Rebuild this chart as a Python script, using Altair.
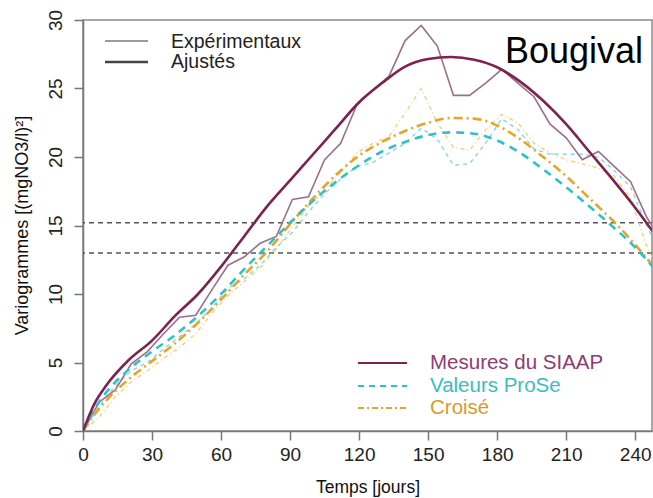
import altair as alt
import pandas as pd

# Experimental variograms, weekly lags (days)
lag_days = [0, 7, 14, 21, 28, 35, 42, 49, 56, 63, 70, 77, 84, 91, 98, 105, 112,
            119, 126, 133, 140, 147, 154, 161, 168, 175, 182, 189, 196, 203, 210,
            217, 224, 231, 238, 245, 252]
siaap_exp = [0, 2.1, 3.0, 4.9, 5.8, 7.1, 8.3, 8.45, 10.3, 12.1, 12.7, 13.7, 14.2,
             16.9, 17.1, 19.8, 21.0, 23.8, 24.9, 25.9, 28.5, 29.6, 28.1, 24.5, 24.5,
             25.4, 26.4, 25.4, 24.4, 22.4, 21.4, 19.8, 20.4, 19.3, 18.2, 15.6, 13.8]
prose_exp = [0, 1.8, 3.3, 4.4, 5.0, 6.0, 6.9, 7.8, 9.0, 10.4, 11.1, 12.1, 13.4,
             14.5, 16.0, 17.3, 18.4, 19.3, 19.6, 20.3, 21.0, 22.1, 21.3, 19.4, 19.5,
             21.0, 22.8, 22.0, 20.6, 20.2, 20.2, 20.2, 20.0, 19.0, 17.8, 15.0, 12.5]
croise_exp = [0, 1.0, 2.5, 3.6, 4.4, 5.3, 6.1, 7.1, 8.6, 9.9, 10.9, 11.9, 13.3,
              14.9, 16.4, 17.6, 18.9, 20.3, 21.0, 21.5, 23.2, 25.0, 22.5, 20.7, 20.5,
              22.0, 23.1, 22.5, 21.0, 20.3, 19.8, 19.5, 19.2, 18.6, 17.0, 13.5, 11.0]

# Fitted variogram models
fit_days = [0, 5, 10, 20, 30, 40, 50, 60, 70, 80, 90, 100, 110, 120, 130, 140,
            150, 160, 170, 180, 190, 200, 210, 220, 230, 240, 247.5]
siaap_fit = [0, 2.0, 3.3, 5.2, 6.6, 8.4, 10.0, 12.0, 14.2, 16.4, 18.3, 20.2, 22.1,
             24.0, 25.4, 26.6, 27.15, 27.3, 27.1, 26.55, 25.5, 24.1, 22.4, 20.4,
             18.4, 16.3, 14.6]
prose_fit = [0, 1.6, 2.8, 4.5, 5.8, 7.0, 8.4, 10.0, 11.8, 13.5, 15.2, 16.8, 18.2,
             19.4, 20.4, 21.1, 21.6, 21.8, 21.7, 21.2, 20.3, 19.1, 17.8, 16.4, 14.95,
             13.4, 12.0]
croise_fit = [0, 1.2, 2.2, 3.8, 5.1, 6.4, 7.9, 9.6, 11.4, 13.1, 15.1, 17.0, 18.7,
              20.1, 21.1, 21.9, 22.5, 22.85, 22.8, 22.3, 21.3, 20.0, 18.6, 17.0, 15.4,
              13.6, 12.1]

# Reference levels (dashed horizontals)
sill_levels = [15.2, 13.0]

x_ticks = [0, 30, 60, 90, 120, 150, 180, 210, 240]
y_ticks = [0, 5, 10, 15, 20, 25, 30]

FONT = "Liberation Sans"

SIAAP_FIT = "#7d2252"
SIAAP_EXP = "#9c7088"
PROSE_FIT = "#30c0c8"
PROSE_EXP = "#8ed6da"
CROISE_FIT = "#e6a52a"
CROISE_EXP = "#f0d27a"


def x_enc():
    return alt.X(
        "jours:Q",
        scale=alt.Scale(domain=[0, 247.3], nice=False, zero=False),
        axis=alt.Axis(
            values=x_ticks, title="Temps [jours]", grid=False,
            labelFontSize=19, labelPadding=5, tickSize=9, labelFlush=False,
            labelOverlap=False, titleFontSize=17.5, titleFontWeight="normal",
            titleX=284.5, titleY=56, titleBaseline="middle", titleAlign="center",
        ),
    )


def y_enc():
    return alt.Y(
        "gamma:Q",
        scale=alt.Scale(domain=[0, 30], nice=False, zero=False),
        axis=alt.Axis(
            values=y_ticks, title="Variogrammes [(mgNO3/l)²]", grid=False,
            labelFontSize=19, labelAngle=270, labelAlign="center",
            labelBaseline="bottom", labelPadding=9, tickSize=9, labelFlush=False,
            labelOverlap=False, titleFontSize=18, titleFontWeight="normal",
            titleAngle=270, titleX=-61, titleY=205, titleAlign="center",
            titleBaseline="middle",
        ),
    )


def series(days, values, color, width, dash=None, interp="linear"):
    df = pd.DataFrame({"jours": days, "gamma": values})
    kw = dict(color=color, strokeWidth=width, clip=True, interpolate=interp)
    if dash is not None:
        kw["strokeDash"] = dash
    return alt.Chart(df).mark_line(**kw).encode(x=x_enc(), y=y_enc())


sills = alt.Chart(pd.DataFrame({"gamma": sill_levels})).mark_rule(
    color="#555555", strokeWidth=1.5, strokeDash=[5, 4]
).encode(y=y_enc())

layers = [
    sills,
    series(lag_days, croise_exp, CROISE_EXP, 1.4, [4, 3, 1, 3]),
    series(lag_days, prose_exp, PROSE_EXP, 1.4, [4, 4]),
    series(lag_days, siaap_exp, SIAAP_EXP, 1.6),
    series(fit_days, croise_fit, CROISE_FIT, 2.6, [9, 4, 2, 4], "monotone"),
    series(fit_days, prose_fit, PROSE_FIT, 2.6, [8, 6], "monotone"),
    series(fit_days, siaap_fit, SIAAP_FIT, 2.6, None, "monotone"),
]

one = pd.DataFrame({"k": [0]})


def leg_rule(x1, x2, ypx, color, width, dash=None):
    kw = dict(color=color, strokeWidth=width)
    if dash is not None:
        kw["strokeDash"] = dash
    return alt.Chart(one).mark_rule(**kw).encode(
        x=alt.value(x1), x2=alt.value(x2), y=alt.value(ypx)
    )


def leg_text(xpx, ypx, label, color, size, baseline="middle"):
    return alt.Chart(one).mark_text(
        align="left", baseline=baseline, font=FONT, fontSize=size, color=color
    ).encode(x=alt.value(xpx), y=alt.value(ypx), text=alt.value(label))


# Line-type legend (top left)
layers += [
    leg_rule(22, 65, 21, "#7a7a7a", 1.5),
    leg_rule(22, 65, 42, "#444444", 2.6),
    leg_text(88, 22, "Expérimentaux", "#222222", 19.5),
    leg_text(88, 42, "Ajustés", "#222222", 19.5),
]

# Station name
layers.append(leg_text(422, 42.7, "Bougival", "#000000", 36, "alphabetic"))

# Series legend (bottom right)
layers += [
    leg_rule(275, 324, 343, SIAAP_FIT, 2.2),
    leg_rule(275, 324, 366, PROSE_FIT, 2.2, [6, 5]),
    leg_rule(275, 324, 388, CROISE_FIT, 2.0, [6, 3, 2, 3]),
    leg_text(347, 343, "Mesures du SIAAP", "#8e3b72", 20.5),
    leg_text(347, 366, "Valeurs ProSe", "#3bbcc4", 20.5),
    leg_text(347, 388, "Croisé", "#d99a2b", 20.5),
]

chart = alt.layer(*layers).properties(
    width=569,
    height=411,
    autosize=alt.AutoSizeParams(type="none"),
    padding={"left": 83, "top": 20, "right": 1, "bottom": 67},
    background="white",
).configure_view(
    stroke="#8a8a8a", strokeWidth=1.5
).configure_axis(
    domainColor="#777777", tickColor="#777777", domainWidth=1.5, tickWidth=1.5,
    labelColor="#222222", titleColor="#111111", labelFont=FONT, titleFont=FONT,
)

chart.save("out.html", embed_options={"renderer": "svg", "actions": False})
